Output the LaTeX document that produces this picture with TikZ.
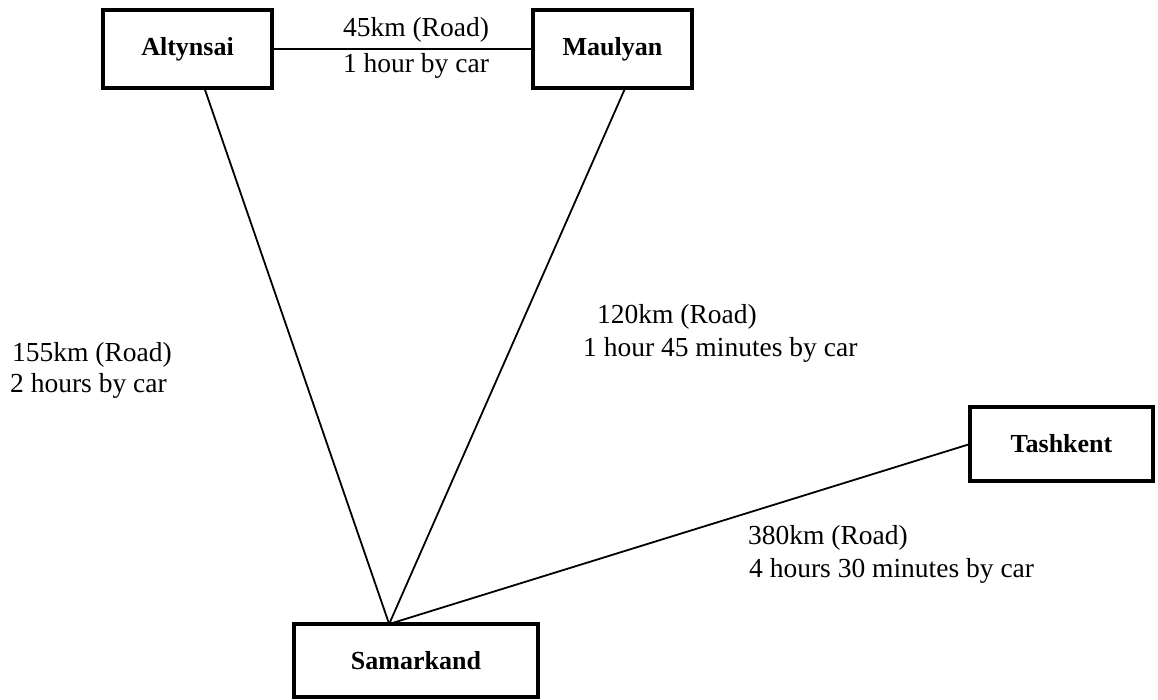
\documentclass[tikz,border=0pt]{standalone}
\usepackage{fontspec}
\setmainfont{Liberation Serif}
\usetikzlibrary{calc}
\begin{document}
\begin{tikzpicture}[x=1pt,y=-1pt,
  place/.style={draw, line width=4pt, inner sep=0pt, outer sep=0pt, font=\fontsize{26}{28}\selectfont\bfseries},
  lbl/.style={inner sep=0pt, font=\fontsize{27.5}{33}\selectfont, align=left},
  road/.style={line width=1.8pt},
  thinroad/.style={line width=1.1pt}]
\useasboundingbox (0,0) rectangle (1158,699);
\node[place, minimum width=169pt, minimum height=78pt] (alt) at (187.5,49) {Altynsai};
\node[place, minimum width=159pt, minimum height=78pt] (mau) at (612.5,49) {Maulyan};
\node[place, minimum width=244pt, minimum height=73pt] (sam) at (416,660.5) {Samarkand};
\node[place, minimum width=183pt, minimum height=74pt] (tas) at (1061.5,444) {Tashkent};
\coordinate (meet) at ($(sam.north west)!0.39!(sam.north east)$);
\draw[thinroad] (alt.east) -- (mau.west);
\draw[road] ($(alt.south west)!0.60!(alt.south east)$) -- (meet);
\draw[road] ($(mau.south west)!0.58!(mau.south east)$) -- (meet);
\draw[road] (tas.west) -- (meet);
\node[lbl, anchor=center] (l1) at (416,30) {45km (Road)};
\node[lbl, anchor=center] (l1b) at (416,66) {1 hour by car};
\node[lbl, anchor=west] (l2) at (12,355) {155km (Road)};
\node[lbl, anchor=west] (l2b) at (10,386) {2 hours by car};
\node[lbl, anchor=west] (l3) at (597,317) {120km (Road)};
\node[lbl, anchor=west] (l3b) at (583,350) {1 hour 45 minutes by car};
\node[lbl, anchor=west] (l4) at (748,538) {380km (Road)};
\node[lbl, anchor=west] (l4b) at (749,571) {4 hours 30 minutes by car};
\end{tikzpicture}
\end{document}
